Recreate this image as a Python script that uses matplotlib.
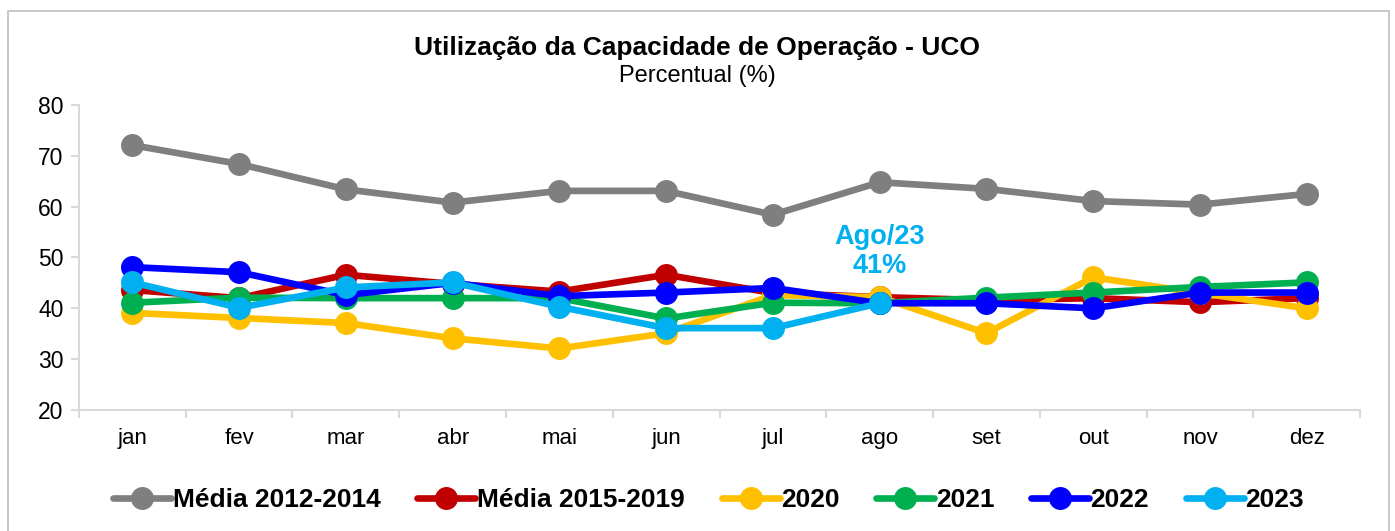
import matplotlib.pyplot as plt
from matplotlib.patches import Rectangle

plt.rcParams['font.family'] = ['Liberation Sans', 'DejaVu Sans']

# dados
meses = ['jan', 'fev', 'mar', 'abr', 'mai', 'jun', 'jul', 'ago', 'set', 'out', 'nov', 'dez']
media_2012_2014 = [72.1, 68.4, 63.4, 60.8, 63.1, 63.1, 58.4, 64.8, 63.5, 61.1, 60.4, 62.5]
media_2015_2019 = [43.6, 42.0, 46.6, 44.8, 43.3, 46.6, 43.0, 42.2, 41.6, 42.0, 41.2, 42.0]
y2020 = [39.1, 38.1, 37.1, 34.1, 32.1, 35.1, 42.6, 42.2, 35.1, 46.1, 43.0, 40.0]
y2021 = [41.1, 42.1, 42.0, 42.0, 42.0, 38.0, 41.1, 41.0, 42.1, 43.1, 44.2, 45.1]
y2022 = [48.1, 47.1, 42.6, 45.0, 42.4, 43.1, 44.0, 41.0, 41.0, 40.0, 43.1, 43.1]
y2023 = [45.1, 40.1, 44.1, 45.1, 40.3, 36.1, 36.1, 41.0]

series = [
    ('Média 2012-2014', media_2012_2014, '#7F7F7F'),
    ('Média 2015-2019', media_2015_2019, '#C00000'),
    ('2020', y2020, '#FFC000'),
    ('2021', y2021, '#00B050'),
    ('2022', y2022, '#0000FF'),
    ('2023', y2023, '#00B0F0'),
]

fig = plt.figure(figsize=(13.95, 5.31), dpi=100)
ax = fig.add_axes([0.0566, 0.2279, 0.9184, 0.5744])

x = list(range(len(meses)))
for nome, vals, cor in series:
    ax.plot(x[:len(vals)], vals, color=cor, lw=4.8, marker='o', markersize=15.5,
            label=nome, solid_capstyle='round')

ax.set_xlim(-0.5, 11.5)
ax.set_ylim(20, 80)
ax.set_yticks(range(20, 81, 10))
ax.set_xticks(x)
ax.set_xticklabels(meses)
ax.set_xticks([i - 0.5 for i in range(13)], minor=True)
ax.tick_params(axis='x', which='major', length=0, pad=13, labelsize=16)
ax.tick_params(axis='x', which='minor', length=6, color='#D9D9D9', width=1.5)
ax.tick_params(axis='y', length=6, color='#D9D9D9', width=1.5, labelsize=16.5, pad=5)
for s in ['top', 'right']:
    ax.spines[s].set_visible(False)
for s in ['left', 'bottom']:
    ax.spines[s].set_color('#D9D9D9')
    ax.spines[s].set_linewidth(1.5)

ax.text(7, 51.1, 'Ago/23\n41%', color='#00B0F0', fontsize=19.5, fontweight='bold',
        ha='center', va='center', linespacing=1.15)

fig.text(0.5, 0.91, 'Utilização da Capacidade de Operação - UCO', ha='center', va='center',
         fontsize=19, fontweight='bold')
fig.text(0.5, 0.856, 'Percentual (%)', ha='center', va='center', fontsize=17)

fig.legend(loc='center', bbox_to_anchor=(0.508, 0.058), ncol=6, frameon=False,
           prop={'weight': 'bold', 'size': 19}, handlelength=2.2, columnspacing=1.4,
           handletextpad=0.05, markerscale=1.0)

fig.patches.append(Rectangle((0.006, -0.01), 0.99, 0.99, transform=fig.transFigure,
                             fill=False, edgecolor='#BFBFBF', lw=1.2))

fig.savefig('out.png', dpi=100)
